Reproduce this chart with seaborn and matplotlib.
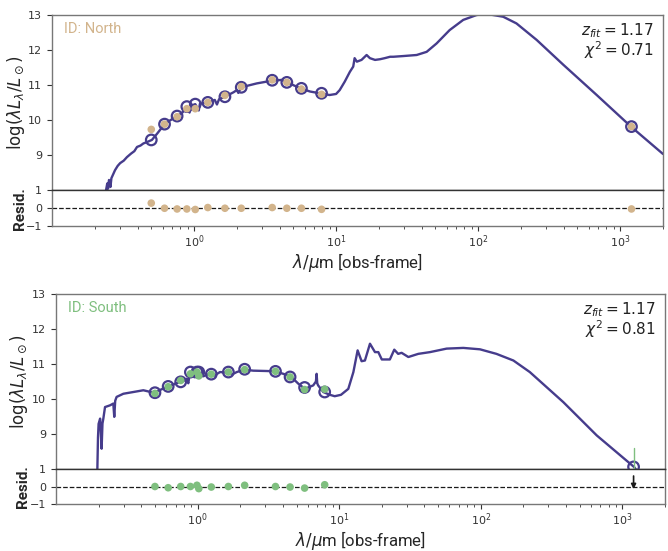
import numpy as np
import pandas as pd
import matplotlib
matplotlib.use("Agg")
import matplotlib.pyplot as plt
import seaborn as sns

sns.set_theme(style="ticks")
plt.rcParams["font.family"] = ["DejaVu Sans"]
plt.rcParams["mathtext.fontset"] = "dejavusans"

# ---------------- data ----------------
# North: model SED
north_model_wave = [0.24, 0.245, 0.248, 0.252, 0.256, 0.258, 0.262, 0.278, 0.29, 0.302, 0.32, 0.337,
                    0.36, 0.38, 0.397, 0.42, 0.44, 0.467, 0.505, 0.55, 0.62, 0.68, 0.76, 0.82,
                    0.86, 0.89, 0.93, 0.96, 1.02, 1.08, 1.1, 1.25, 1.4, 1.45, 1.5, 1.65, 1.9,
                    2.0, 2.05, 2.15, 2.76, 3.55, 4.14, 4.5, 5.28, 5.7, 6.55, 7.9, 9.0, 10.0,
                    10.6, 11.5, 12.5, 13.2, 13.5, 14.0, 15.1, 16.4, 17.3, 18.8, 20.4, 22.0,
                    24.0, 25.3, 29.7, 36.9, 43.4, 51.0, 63.0, 78.5, 97.7, 115.0, 150.0, 186.0,
                    258.0, 398.0, 683.0, 1190.0, 2000.0]
north_model_logL = [8.0, 8.2, 8.05, 8.3, 8.24, 8.1, 8.35, 8.58, 8.7, 8.78, 8.85, 8.95,
                    9.05, 9.12, 9.24, 9.28, 9.34, 9.38, 9.44, 9.62, 9.89, 10.0, 10.12, 10.2,
                    10.3, 10.39, 10.22, 10.42, 10.46, 10.28, 10.47, 10.51, 10.58, 10.45, 10.6, 10.67, 10.8,
                    10.86, 10.78, 10.94, 11.05, 11.13, 11.15, 11.08, 10.96, 10.90, 10.82, 10.76, 10.72, 10.75,
                    10.86, 11.1, 11.38, 11.53, 11.77, 11.67, 11.72, 11.86, 11.77, 11.72, 11.74, 11.77,
                    11.81, 11.81, 11.83, 11.86, 11.95, 12.19, 12.57, 12.86, 13.0, 13.03, 12.95, 12.76,
                    12.29, 11.58, 10.72, 9.82, 9.04]

# North: photometry
north_phot_wave = [0.50, 0.62, 0.76, 0.89, 1.02, 1.25, 1.65, 2.15, 3.55, 4.5, 5.7, 7.9, 1200.0]
north_obs = [9.74, 9.89, 10.10, 10.33, 10.33, 10.51, 10.71, 10.96, 11.15, 11.08, 10.89, 10.74, 9.82]
north_err = [0.10, 0.02, 0.02, 0.02, 0.02, 0.02, 0.02, 0.02, 0.02, 0.02, 0.02, 0.02, 0.02]
north_fit = [9.44, 9.89, 10.12, 10.39, 10.46, 10.51, 10.67, 10.94, 11.14, 11.08, 10.91, 10.77, 9.82]
north_resid = [0.29, 0.0, -0.04, -0.04, -0.07, 0.04, 0.0, 0.0, 0.04, 0.0, 0.0, -0.06, -0.04]

# South: model SED
south_model_wave = [0.196, 0.198, 0.2, 0.205, 0.21, 0.213, 0.216, 0.222, 0.241, 0.254, 0.258,
                    0.262, 0.268, 0.299, 0.352, 0.414, 0.49, 0.605, 0.751, 0.80, 0.838, 0.86,
                    0.884, 0.95, 1.02, 1.1, 1.24, 1.3, 1.44, 1.65, 1.75, 1.89, 2.14, 2.47, 3.08,
                    3.52, 4.03, 4.54, 5.14, 5.73, 6.56, 6.85, 6.93, 7.0, 7.1, 7.72, 8.6, 9.3,
                    10.3, 11.6, 12.6, 13.5, 14.4, 15.2, 16.5, 17.9, 18.9, 20.0, 22.8, 24.5,
                    26.1, 27.6, 30.8, 36.2, 43.8, 57.4, 75.3, 98.7, 129.0, 170.0, 222.0, 383.0,
                    659.0, 1208.0, 1350.0]
south_model_logL = [8.0, 8.9, 9.29, 9.44, 8.58, 9.3, 9.44, 9.77, 9.82, 9.87, 9.49,
                    9.95, 10.06, 10.15, 10.2, 10.25, 10.18, 10.34, 10.49, 10.52, 10.58, 10.45,
                    10.77, 10.62, 10.77, 10.65, 10.74, 10.66, 10.77, 10.75, 10.7, 10.77, 10.84, 10.81, 10.8,
                    10.79, 10.72, 10.65, 10.44, 10.29, 10.39, 10.5, 10.72, 10.45, 10.39, 10.2, 10.12, 10.08,
                    10.12, 10.29, 10.77, 11.39, 11.08, 11.1, 11.58, 11.34, 11.34, 11.13, 11.13, 11.41,
                    11.29, 11.32, 11.2, 11.29, 11.34, 11.44, 11.46, 11.42, 11.29, 11.1, 10.77, 9.91,
                    8.96, 8.06, 7.8]

# South: photometry
south_phot_wave = [0.50, 0.62, 0.76, 0.89, 0.99, 1.02, 1.25, 1.65, 2.15, 3.55, 4.5, 5.7, 7.9]
south_obs = [10.16, 10.35, 10.53, 10.72, 10.77, 10.66, 10.71, 10.77, 10.84, 10.79, 10.63, 10.27, 10.28]
south_fit_wave = [0.50, 0.62, 0.76, 0.89, 0.99, 1.02, 1.25, 1.65, 2.15, 3.55, 4.5, 5.7, 7.9, 1200.0]
south_fit = [10.18, 10.36, 10.49, 10.77, 10.77, 10.77, 10.71, 10.77, 10.85, 10.79, 10.63, 10.33, 10.20, 8.06]
south_resid = [0.0, -0.07, 0.0, 0.0, 0.07, -0.12, -0.03, 0.0, 0.07, 0.0, -0.03, -0.09, 0.1]
south_ul_wave = [1200.0, 1200.0]
south_ul_logL = [8.0, 8.6]
south_ul_resid = [0.6, -0.15]

xtick_values = [1, 10, 100, 1000]

panels = [
    dict(name="North", color="#d2b48c", mwave=north_model_wave, mlog=north_model_logL,
         pwave=north_phot_wave, obs=north_obs, err=north_err, fwave=north_phot_wave, fit=north_fit,
         rwave=north_phot_wave, resid=north_resid, zfit="1.17", chi2="0.71",
         main=[0.0778, 0.6543, 0.9147, 0.3185], res=[0.0778, 0.5898, 0.9147, 0.0645],
         lab=-0.041, xlab=-0.70),
    dict(name="South", color="#7fbf7f", mwave=south_model_wave, mlog=south_model_logL,
         pwave=south_phot_wave, obs=south_obs, err=None, fwave=south_fit_wave, fit=south_fit,
         rwave=south_phot_wave, resid=south_resid, zfit="1.17", chi2="0.81",
         main=[0.0838, 0.1488, 0.9117, 0.3176], res=[0.0838, 0.0853, 0.9117, 0.0635],
         lab=-0.043, xlab=-0.72),
]

line_color = "#463c8c"

fig = plt.figure(figsize=(6.68, 5.51), dpi=100)

for p in panels:
    ax = fig.add_axes(p["main"])
    axr = fig.add_axes(p["res"], sharex=ax)

    mdf = pd.DataFrame({"wave": p["mwave"], "logL": p["mlog"]})
    sns.lineplot(data=mdf, x="wave", y="logL", ax=ax, color=line_color, lw=1.7,
                 estimator=None, sort=False, zorder=2)

    fdf = pd.DataFrame({"wave": p["fwave"], "logL": p["fit"]})
    sns.scatterplot(data=fdf, x="wave", y="logL", ax=ax, s=58, facecolors="none",
                    edgecolor=line_color, linewidth=1.6, zorder=3)

    odf = pd.DataFrame({"wave": p["pwave"], "logL": p["obs"]})
    if p["err"] is not None:
        ax.errorbar(p["pwave"], p["obs"], yerr=p["err"], fmt="none", ecolor=p["color"],
                    elinewidth=1.2, zorder=3.5)
    sns.scatterplot(data=odf, x="wave", y="logL", ax=ax, s=30, color=p["color"],
                    edgecolor="none", zorder=4)

    if p["name"] == "South":
        ax.plot(south_ul_wave, south_ul_logL, color=p["color"], lw=1.0, zorder=4)
        axr.annotate("", xy=(south_ul_wave[0], south_ul_resid[1]),
                     xytext=(south_ul_wave[0], south_ul_resid[0]),
                     arrowprops=dict(arrowstyle="-|>", color="k", lw=1.2,
                                     mutation_scale=7, shrinkA=0, shrinkB=0), zorder=5)

    ax.set_xscale("log")
    ax.set_xlim(0.1, 2000)
    ax.set_ylim(8, 13)
    ax.set_yticks([9, 10, 11, 12, 13])
    ax.tick_params(axis="x", which="both", bottom=False, labelbottom=False)
    ax.tick_params(axis="y", labelsize=8, length=3.5, width=0.8, colors="#333333")
    ax.set_xlabel("")
    ax.set_ylabel(r"$\log(\lambda L_\lambda/L_\odot)$", fontsize=12)
    for s in ax.spines.values():
        s.set_color("#777777")
        s.set_linewidth(1.0)
    ax.spines["bottom"].set_color("#333333")

    ax.text(0.02, 0.92, f"ID: {p['name']}", transform=ax.transAxes, color=p["color"],
            fontsize=10.5, family=["Roboto", "DejaVu Sans"], ha="left", va="center")
    ax.text(0.985, 0.91, r"$z_{fit} = %s$" % p["zfit"], transform=ax.transAxes,
            fontsize=11, ha="right", va="center", color="#222222")
    ax.text(0.985, 0.80, r"$\chi^2 = %s$" % p["chi2"], transform=ax.transAxes,
            fontsize=11, ha="right", va="center", color="#222222")

    rdf = pd.DataFrame({"wave": p["rwave"], "resid": p["resid"]})
    axr.axhline(0, color="k", ls="--", lw=0.9, zorder=1)
    sns.scatterplot(data=rdf, x="wave", y="resid", ax=axr, s=30, color=p["color"],
                    edgecolor="none", zorder=4)
    axr.set_xscale("log")
    axr.set_xlim(0.1, 2000)
    axr.set_xticks(xtick_values)
    axr.set_ylim(-1, 1)
    axr.set_yticks([-1, 0, 1])
    axr.set_yticklabels(["\u22121", "0", "1"])
    axr.tick_params(axis="both", which="major", labelsize=8, length=3.5, width=0.8, colors="#333333")
    axr.tick_params(axis="x", which="major", pad=2)
    axr.tick_params(axis="x", which="minor", length=2, width=0.6, colors="#333333")
    axr.set_ylabel("Resid.", fontsize=11, fontweight="bold", family=["Roboto", "DejaVu Sans"])
    axr.set_xlabel(r"$\lambda/\mu$m [obs-frame]", fontsize=12, family=["Roboto", "DejaVu Sans"])
    for s in axr.spines.values():
        s.set_color("#777777")
        s.set_linewidth(1.0)
    axr.spines["top"].set_color("#333333")
    ax.yaxis.set_label_coords(p["lab"], 0.5)
    axr.yaxis.set_label_coords(p["lab"], 0.5)
    axr.xaxis.set_label_coords(0.5, p["xlab"])

fig.savefig("out.png", dpi=100)
